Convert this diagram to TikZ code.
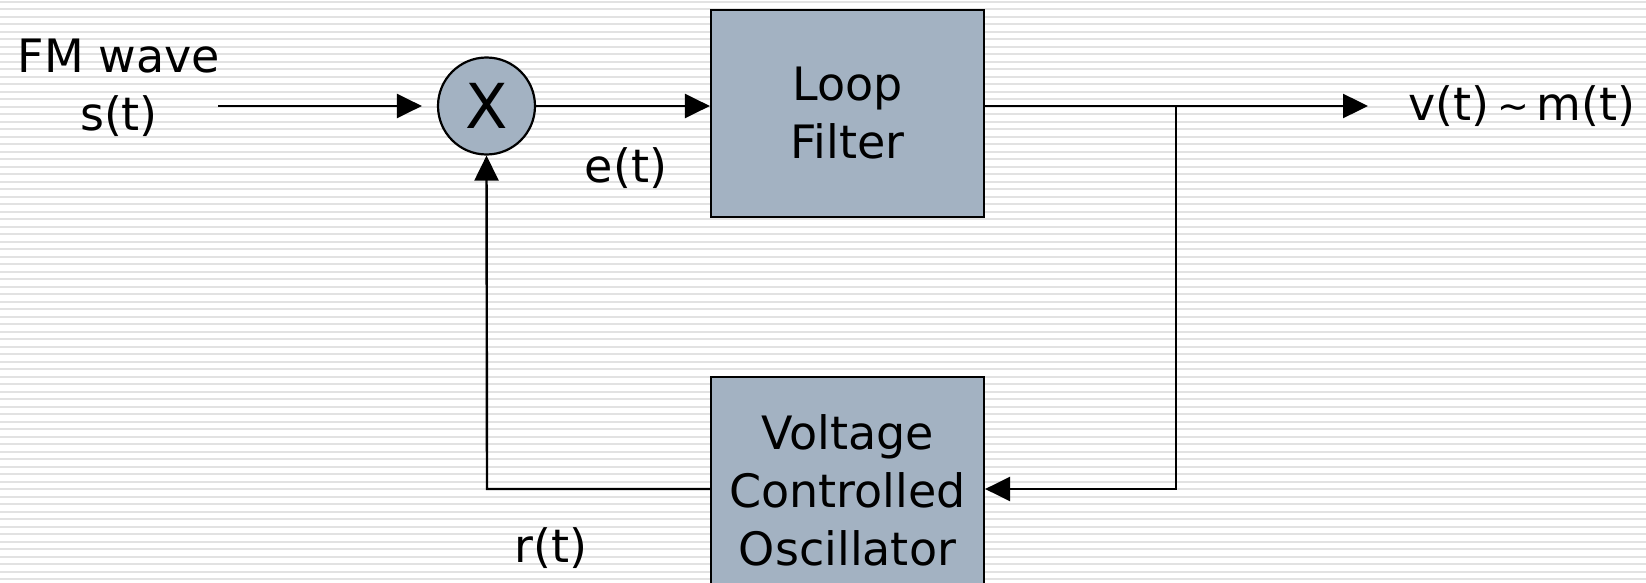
\documentclass[tikz,border=0pt]{standalone}
\usepackage{fontspec}
\setmainfont{DejaVu Sans}
\usetikzlibrary{arrows.meta}
\definecolor{boxfill}{RGB}{163,178,194}
\definecolor{stripe}{RGB}{226,226,226}
\tikzset{
  blockbox/.style={draw=black, line width=2.2pt, fill=boxfill, minimum width=273pt, inner sep=0pt, align=center, font=\fontsize{46}{58}\selectfont},
  mixer/.style={circle, draw=black, line width=2.2pt, fill=boxfill, minimum size=97pt, inner sep=0pt, font=\fontsize{62}{62}\selectfont},
  conn/.style={line width=2.4pt, -{Triangle[length=25pt,width=24pt]}},
  lbl/.style={inner sep=0pt, align=center, font=\fontsize{46}{58}\selectfont}
}
\begin{document}
\begin{tikzpicture}[x=1pt,y=-1pt]
\useasboundingbox (0,0) rectangle (1646,583);
\fill[white] (0,0) rectangle (1646,583);
\foreach \i in {0,...,78} {
  \draw[stripe, line width=1.8pt] (0,1.7+7.5*\i) -- (1646,1.7+7.5*\i);
}
\node[mixer] (mult) at (486.5,106) {X};
\node[blockbox, minimum height=207pt] (lf) at (847.5,113.5) {Loop\\Filter};
\node[blockbox, minimum height=226pt] (vco) at (847.5,490) {Voltage\\Controlled\\Oscillator};
\node[lbl] (fm) at (119,88) {FM wave\\s(t)};
\coordinate (sin) at (218,106);
\coordinate (out) at (1368,106);
\coordinate (br) at (1176,106);
\coordinate (brd) at (1176,489);
\coordinate (fbl) at (487,489);
\node[lbl] (vt) at (1522,106) {v(t)\,{\raisebox{1pt}{\fontsize{38}{38}\selectfont\textasciitilde}}\,m(t)};
\node[lbl] (et) at (626,168) {e(t)};
\node[lbl] (rt) at (551,548) {r(t)};
\draw[conn] (sin) -- ([xshift=-15pt]mult.west);
\draw[conn] (mult.east) -- (mult.east -| lf.west);
\draw[conn] (lf.east |- out) -- (out);
\draw[conn] (br) -- (brd) -- (vco.east |- brd);
\draw[conn] (vco.west |- fbl) -- (fbl) -- (mult.south);
\end{tikzpicture}
\end{document}
